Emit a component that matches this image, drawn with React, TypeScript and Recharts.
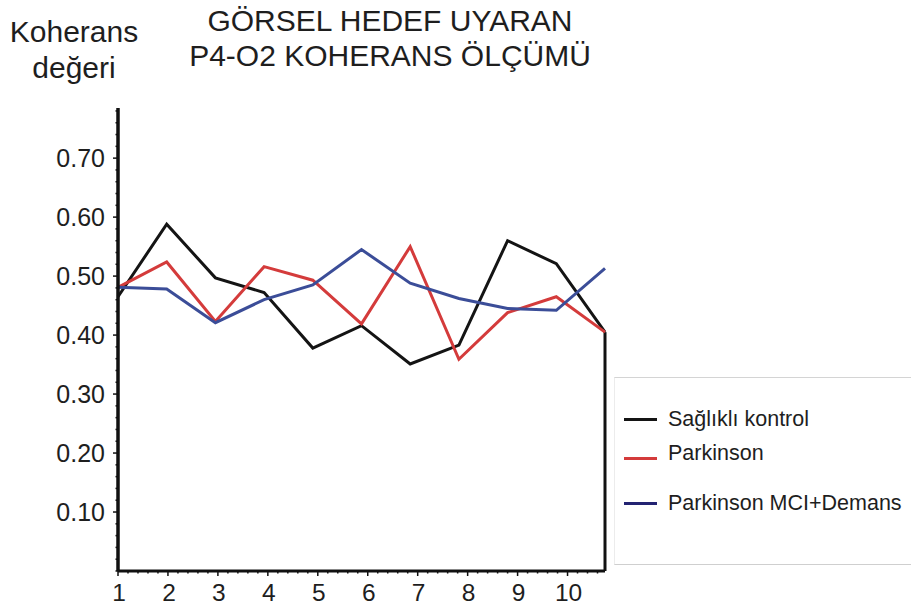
import { LineChart, Line, XAxis, YAxis, ReferenceLine } from "recharts";

// measurement index 1..11 (10 labelled positions plus the end point)
const points = [1, 2, 3, 4, 5, 6, 7, 8, 9, 10, 11];
const saglikli = [0.465, 0.588, 0.497, 0.472, 0.378, 0.416, 0.351, 0.383, 0.56, 0.521, 0.405];
const parkinson = [0.481, 0.524, 0.423, 0.516, 0.493, 0.419, 0.55, 0.359, 0.438, 0.465, 0.405];
const parkinsonMci = [0.481, 0.478, 0.421, 0.46, 0.485, 0.545, 0.488, 0.462, 0.445, 0.442, 0.513];

const xLabels = [1, 2, 3, 4, 5, 6, 7, 8, 9, 10];
const yLabels = [0.1, 0.2, 0.3, 0.4, 0.5, 0.6, 0.7];

const series = [
  { key: "saglikli", name: "Sağlıklı kontrol", color: "#141414", legend: "#141414" },
  { key: "parkinson", name: "Parkinson", color: "#d43b3b", legend: "#d43b3b" },
  { key: "mci", name: "Parkinson MCI+Demans", color: "#3b4d98", legend: "#232372" },
];

const data = points.map((p, i) => ({
  x: p,
  saglikli: saglikli[i],
  parkinson: parkinson[i],
  mci: parkinsonMci[i],
}));

// minor ticks every 0.2 on x, every 0.02 on y
const xTicks = Array.from({ length: 49 }, (_, i) => Math.round((1 + i * 0.2) * 10) / 10);
const yTicks = Array.from({ length: 40 }, (_, i) => Math.round(i * 2) / 100);

const FONT = "'Liberation Sans', Arial, sans-serif";
const TEXT = "#1e1e1e";

const XTick = (props: any) => {
  const { x, y, payload } = props;
  const v = payload.value;
  const major = xLabels.includes(v);
  return (
    <g>
      <line x1={x} y1={y} x2={x} y2={y + (major ? 5 : 2.5)} stroke="#111" strokeWidth={1.5} />
      {major && (
        <text x={x + 1} y={y + 30} textAnchor="middle" fontSize={24.5} fill={TEXT} fontFamily={FONT}>
          {v}
        </text>
      )}
    </g>
  );
};

const YTick = (props: any) => {
  const { x, y, payload } = props;
  const v = payload.value;
  const major = yLabels.some((l) => Math.abs(l - v) < 1e-6);
  return (
    <g>
      <line x1={x} y1={y} x2={x - (major ? 5 : 2.5)} y2={y} stroke="#111" strokeWidth={1.5} />
      {major && (
        <text x={x - 13} y={y + 9} textAnchor="end" fontSize={25} fill={TEXT} fontFamily={FONT}>
          {v.toFixed(2)}
        </text>
      )}
    </g>
  );
};

export default function App() {
  return (
    <div
      style={{
        position: "absolute",
        left: 0,
        top: 0,
        width: 911,
        height: 611,
        background: "#fff",
        fontFamily: FONT,
        color: TEXT,
        overflow: "hidden",
      }}
    >
      <div style={{ position: "absolute", left: 0, top: 14, width: 148, textAlign: "center", fontSize: 30, lineHeight: "36px" }}>
        Koherans
        <br />
        değeri
      </div>
      <div style={{ position: "absolute", left: 160, top: 3, width: 460, textAlign: "center", fontSize: 30, lineHeight: "35px" }}>
        GÖRSEL HEDEF UYARAN
        <br />
        P4-O2 KOHERANS ÖLÇÜMÜ
      </div>

      <LineChart
        width={911}
        height={611}
        data={data}
        margin={{ top: 108, right: 306, left: 58, bottom: 0 }}
      >
        <XAxis xAxisId="pts" dataKey="x" type="number" domain={[1, 11]} hide />
        <XAxis
          xAxisId="lbl"
          dataKey="x"
          type="number"
          domain={[1, 10.75]}
          ticks={xTicks}
          interval={0}
          allowDataOverflow
          height={40}
          tickSize={0}
          tickMargin={0}
          tickLine={false}
          axisLine={{ stroke: "#111", strokeWidth: 3 }}
          tick={<XTick />}
        />
        <YAxis
          type="number"
          domain={[0, 0.785]}
          ticks={yTicks}
          interval={0}
          allowDataOverflow
          width={60}
          tickSize={0}
          tickMargin={0}
          tickLine={false}
          axisLine={{ stroke: "#111", strokeWidth: 3.5 }}
          tick={<YTick />}
        />
        <ReferenceLine
          xAxisId="pts"
          segment={[
            { x: points[points.length - 1], y: 0 },
            { x: points[points.length - 1], y: saglikli[saglikli.length - 1] },
          ]}
          stroke="#111"
          strokeWidth={3}
        />
        {series.map((s) => (
          <Line
            key={s.key}
            xAxisId="pts"
            type="linear"
            dataKey={s.key}
            name={s.name}
            stroke={s.color}
            strokeWidth={3}
            dot={false}
            activeDot={false}
            isAnimationActive={false}
          />
        ))}
      </LineChart>

      <div
        style={{
          position: "absolute",
          left: 614,
          top: 377,
          width: 310,
          height: 188,
          borderTop: "1.5px solid #d4d4d4",
          borderBottom: "1.5px solid #cfcfcf",
          borderLeft: "1px solid #ececec",
          boxSizing: "border-box",
        }}
      >
        {series.map((s, i) => (
          <div
            key={s.key}
            style={{
              position: "absolute",
              left: 9,
              top: [28, 62, 112][i],
              display: "flex",
              alignItems: "center",
              fontSize: 21.5,
              lineHeight: "26px",
              whiteSpace: "nowrap",
            }}
          >
            <span
              style={{
                display: "inline-block",
                width: 33,
                height: 3,
                background: s.legend,
                marginRight: 11,
                position: "relative",
                top: i === 1 ? 5 : 0,
              }}
            />
            {s.name}
          </div>
        ))}
      </div>
    </div>
  );
}
